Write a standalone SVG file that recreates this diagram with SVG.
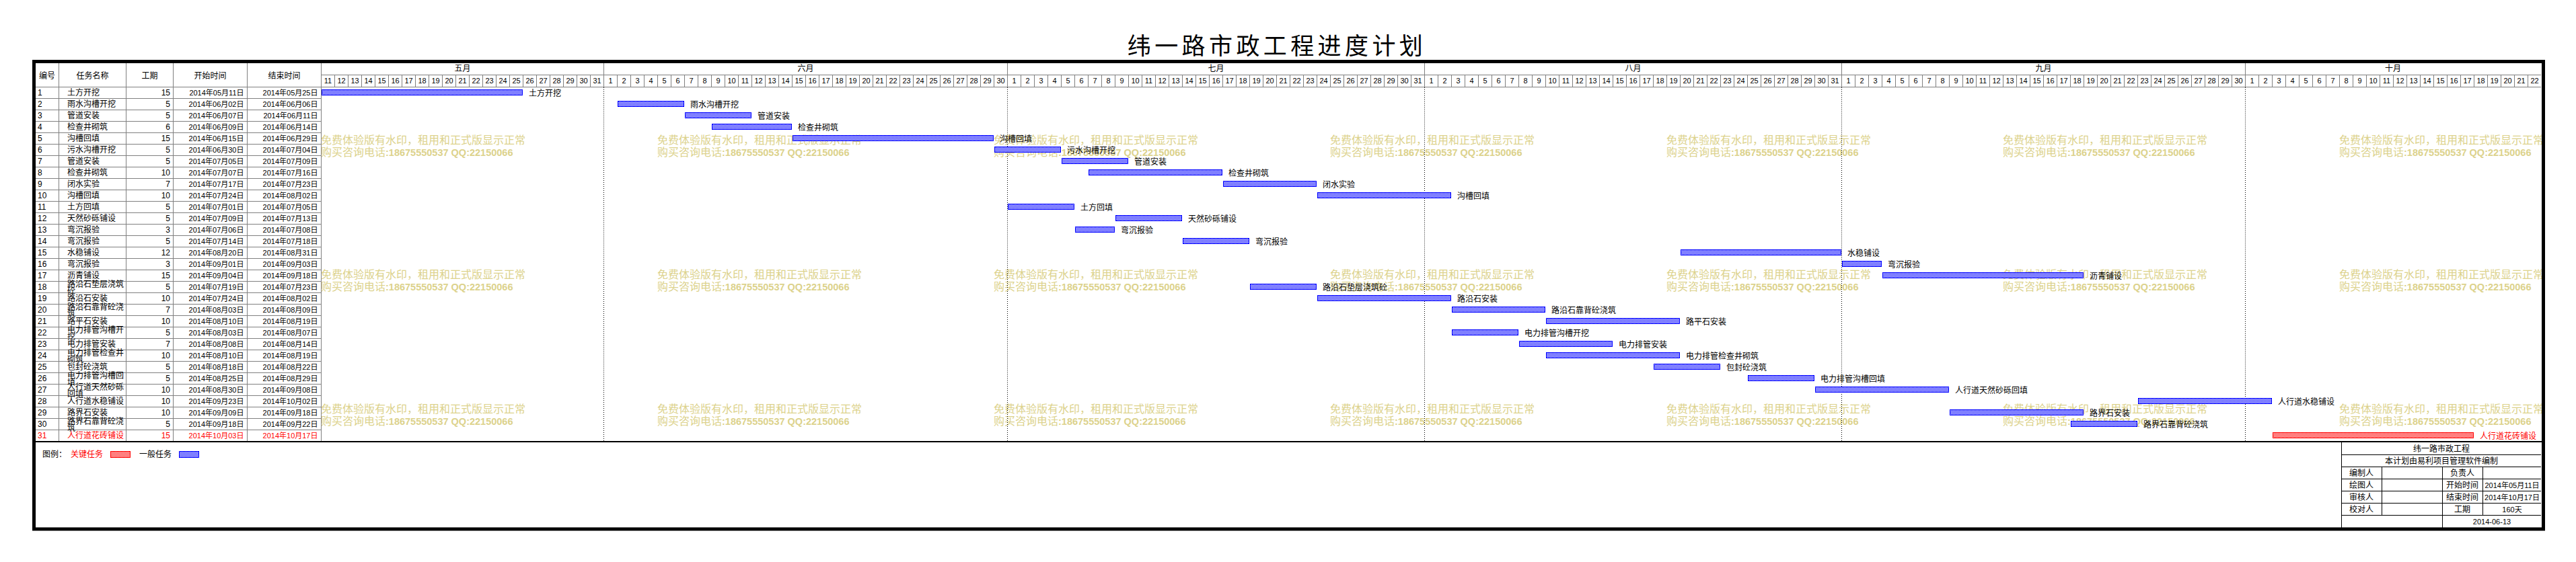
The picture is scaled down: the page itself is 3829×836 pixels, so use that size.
<svg xmlns="http://www.w3.org/2000/svg" width="3829" height="836" viewBox="0 0 3829 836">
<style>
text{font-family:"Noto Sans CJK SC",sans-serif;fill:#000}
.title{font-size:35px;letter-spacing:5.4px;text-anchor:middle}
.hd{font-size:12px;text-anchor:middle}
.mo{font-size:12px;text-anchor:middle}
.day{font-family:"Liberation Sans","Noto Sans CJK SC",sans-serif;font-size:11px;text-anchor:middle}
.no{font-family:"Liberation Sans","Noto Sans CJK SC",sans-serif;font-size:12px}
.nm{font-size:12px}
.du{font-family:"Liberation Sans","Noto Sans CJK SC",sans-serif;font-size:12px;text-anchor:end}
.dt{font-family:"Liberation Sans","Noto Sans CJK SC",sans-serif;font-size:11px;text-anchor:end}
.lb{font-size:12px}
.crit text,text.crit{fill:#ff0000}
.bar{fill:url(#chkB);stroke:#0000ff;stroke-width:1}
.rbar{fill:url(#chkR);stroke:#ff0000;stroke-width:1}
.grid{stroke:#808080;stroke-width:1;fill:none}
.blk{stroke:#000;stroke-width:1;fill:none}
.dot{stroke:#000;stroke-width:1;stroke-dasharray:1 2;fill:none}
.wm{font-size:16px;fill:#dcd28c}
.wmb{font-family:"Liberation Sans","Noto Sans CJK SC",sans-serif;font-weight:bold;font-size:14.5px}
.it{font-size:12px;text-anchor:middle}
.itd{font-family:"Liberation Sans","Noto Sans CJK SC",sans-serif;font-size:11px;text-anchor:middle}
</style>
<defs>
<pattern id="chkB" width="2" height="2" patternUnits="userSpaceOnUse"><rect width="2" height="2" fill="#ffffff"/><rect width="1" height="1" fill="#0000ff"/><rect x="1" y="1" width="1" height="1" fill="#0000ff"/></pattern>
<pattern id="chkR" width="2" height="2" patternUnits="userSpaceOnUse"><rect width="2" height="2" fill="#ffffff"/><rect width="1" height="1" fill="#ff0000"/><rect x="1" y="1" width="1" height="1" fill="#ff0000"/></pattern>
<pattern id="dayGrid" x="477" y="112" width="20" height="18" patternUnits="userSpaceOnUse"><rect width="1" height="18" fill="#808080"/></pattern>
</defs>
<rect width="3829" height="836" fill="#ffffff"/>

<text class="title" x="1898" y="81">纬一路市政工程进度计划</text>

<!-- watermarks -->
<g id="watermarks">
<text class="wm" x="477" y="214">免费体验版有水印，租用和正式版显示正常</text>
<text class="wm" x="477" y="232">购买咨询电话<tspan class="wmb">:18675550537 QQ:22150066</tspan></text>
<text class="wm" x="977" y="214">免费体验版有水印，租用和正式版显示正常</text>
<text class="wm" x="977" y="232">购买咨询电话<tspan class="wmb">:18675550537 QQ:22150066</tspan></text>
<text class="wm" x="1477" y="214">免费体验版有水印，租用和正式版显示正常</text>
<text class="wm" x="1477" y="232">购买咨询电话<tspan class="wmb">:18675550537 QQ:22150066</tspan></text>
<text class="wm" x="1977" y="214">免费体验版有水印，租用和正式版显示正常</text>
<text class="wm" x="1977" y="232">购买咨询电话<tspan class="wmb">:18675550537 QQ:22150066</tspan></text>
<text class="wm" x="2477" y="214">免费体验版有水印，租用和正式版显示正常</text>
<text class="wm" x="2477" y="232">购买咨询电话<tspan class="wmb">:18675550537 QQ:22150066</tspan></text>
<text class="wm" x="2977" y="214">免费体验版有水印，租用和正式版显示正常</text>
<text class="wm" x="2977" y="232">购买咨询电话<tspan class="wmb">:18675550537 QQ:22150066</tspan></text>
<text class="wm" x="3477" y="214">免费体验版有水印，租用和正式版显示正常</text>
<text class="wm" x="3477" y="232">购买咨询电话<tspan class="wmb">:18675550537 QQ:22150066</tspan></text>
<text class="wm" x="477" y="414">免费体验版有水印，租用和正式版显示正常</text>
<text class="wm" x="477" y="432">购买咨询电话<tspan class="wmb">:18675550537 QQ:22150066</tspan></text>
<text class="wm" x="977" y="414">免费体验版有水印，租用和正式版显示正常</text>
<text class="wm" x="977" y="432">购买咨询电话<tspan class="wmb">:18675550537 QQ:22150066</tspan></text>
<text class="wm" x="1477" y="414">免费体验版有水印，租用和正式版显示正常</text>
<text class="wm" x="1477" y="432">购买咨询电话<tspan class="wmb">:18675550537 QQ:22150066</tspan></text>
<text class="wm" x="1977" y="414">免费体验版有水印，租用和正式版显示正常</text>
<text class="wm" x="1977" y="432">购买咨询电话<tspan class="wmb">:18675550537 QQ:22150066</tspan></text>
<text class="wm" x="2477" y="414">免费体验版有水印，租用和正式版显示正常</text>
<text class="wm" x="2477" y="432">购买咨询电话<tspan class="wmb">:18675550537 QQ:22150066</tspan></text>
<text class="wm" x="2977" y="414">免费体验版有水印，租用和正式版显示正常</text>
<text class="wm" x="2977" y="432">购买咨询电话<tspan class="wmb">:18675550537 QQ:22150066</tspan></text>
<text class="wm" x="3477" y="414">免费体验版有水印，租用和正式版显示正常</text>
<text class="wm" x="3477" y="432">购买咨询电话<tspan class="wmb">:18675550537 QQ:22150066</tspan></text>
<text class="wm" x="477" y="614">免费体验版有水印，租用和正式版显示正常</text>
<text class="wm" x="477" y="632">购买咨询电话<tspan class="wmb">:18675550537 QQ:22150066</tspan></text>
<text class="wm" x="977" y="614">免费体验版有水印，租用和正式版显示正常</text>
<text class="wm" x="977" y="632">购买咨询电话<tspan class="wmb">:18675550537 QQ:22150066</tspan></text>
<text class="wm" x="1477" y="614">免费体验版有水印，租用和正式版显示正常</text>
<text class="wm" x="1477" y="632">购买咨询电话<tspan class="wmb">:18675550537 QQ:22150066</tspan></text>
<text class="wm" x="1977" y="614">免费体验版有水印，租用和正式版显示正常</text>
<text class="wm" x="1977" y="632">购买咨询电话<tspan class="wmb">:18675550537 QQ:22150066</tspan></text>
<text class="wm" x="2477" y="614">免费体验版有水印，租用和正式版显示正常</text>
<text class="wm" x="2477" y="632">购买咨询电话<tspan class="wmb">:18675550537 QQ:22150066</tspan></text>
<text class="wm" x="2977" y="614">免费体验版有水印，租用和正式版显示正常</text>
<text class="wm" x="2977" y="632">购买咨询电话<tspan class="wmb">:18675550537 QQ:22150066</tspan></text>
<text class="wm" x="3477" y="614">免费体验版有水印，租用和正式版显示正常</text>
<text class="wm" x="3477" y="632">购买咨询电话<tspan class="wmb">:18675550537 QQ:22150066</tspan></text>
</g>

<!-- grid -->
<g id="grid">
<rect x="478" y="112" width="3299" height="18" fill="url(#dayGrid)"/>
<path class="grid" d="M477.5 111.5H3777M53 129.5H3777"/>
<path class="grid" d="M87.5 94V656M187.5 94V656M257.5 94V656M367.5 94V656M477.5 94V656"/>
<path class="grid" d="M897.5 94V129.5M1497.5 94V129.5M2117.5 94V129.5M2737.5 94V129.5M3337.5 94V129.5"/>
<path class="grid" d="M53 146.5H477.5M53 163.5H477.5M53 180.5H477.5M53 197.5H477.5M53 214.5H477.5M53 231.5H477.5M53 248.5H477.5M53 265.5H477.5M53 282.5H477.5M53 299.5H477.5M53 316.5H477.5M53 333.5H477.5M53 350.5H477.5M53 367.5H477.5M53 384.5H477.5M53 401.5H477.5M53 418.5H477.5M53 435.5H477.5M53 452.5H477.5M53 469.5H477.5M53 486.5H477.5M53 503.5H477.5M53 520.5H477.5M53 537.5H477.5M53 554.5H477.5M53 571.5H477.5M53 588.5H477.5M53 605.5H477.5M53 622.5H477.5M53 639.5H477.5"/>
<path class="dot" d="M897.5 130V656M1497.5 130V656M2117.5 130V656M2737.5 130V656M3337.5 130V656"/>
<path d="M48 657H3783" stroke="#000" stroke-width="2"/>
</g>

<!-- header -->
<g id="header">
<text class="hd" x="70" y="117">编号</text>
<text class="hd" x="137.5" y="117">任务名称</text>
<text class="hd" x="222.5" y="117">工期</text>
<text class="hd" x="312.5" y="117">开始时间</text>
<text class="hd" x="422.5" y="117">结束时间</text>
<text class="mo" x="687.5" y="106">五月</text>
<text class="mo" x="1197.5" y="106">六月</text>
<text class="mo" x="1807.5" y="106">七月</text>
<text class="mo" x="2427.5" y="106">八月</text>
<text class="mo" x="3037.5" y="106">九月</text>
<text class="mo" x="3557" y="106">十月</text>
<text class="day" y="124"><tspan x="487.5">11</tspan><tspan x="507.5">12</tspan><tspan x="527.5">13</tspan><tspan x="547.5">14</tspan><tspan x="567.5">15</tspan><tspan x="587.5">16</tspan><tspan x="607.5">17</tspan><tspan x="627.5">18</tspan><tspan x="647.5">19</tspan><tspan x="667.5">20</tspan><tspan x="687.5">21</tspan><tspan x="707.5">22</tspan><tspan x="727.5">23</tspan><tspan x="747.5">24</tspan><tspan x="767.5">25</tspan><tspan x="787.5">26</tspan><tspan x="807.5">27</tspan><tspan x="827.5">28</tspan><tspan x="847.5">29</tspan><tspan x="867.5">30</tspan><tspan x="887.5">31</tspan></text>
<text class="day" y="124"><tspan x="907.5">1</tspan><tspan x="927.5">2</tspan><tspan x="947.5">3</tspan><tspan x="967.5">4</tspan><tspan x="987.5">5</tspan><tspan x="1007.5">6</tspan><tspan x="1027.5">7</tspan><tspan x="1047.5">8</tspan><tspan x="1067.5">9</tspan><tspan x="1087.5">10</tspan><tspan x="1107.5">11</tspan><tspan x="1127.5">12</tspan><tspan x="1147.5">13</tspan><tspan x="1167.5">14</tspan><tspan x="1187.5">15</tspan><tspan x="1207.5">16</tspan><tspan x="1227.5">17</tspan><tspan x="1247.5">18</tspan><tspan x="1267.5">19</tspan><tspan x="1287.5">20</tspan><tspan x="1307.5">21</tspan><tspan x="1327.5">22</tspan><tspan x="1347.5">23</tspan><tspan x="1367.5">24</tspan><tspan x="1387.5">25</tspan><tspan x="1407.5">26</tspan><tspan x="1427.5">27</tspan><tspan x="1447.5">28</tspan><tspan x="1467.5">29</tspan><tspan x="1487.5">30</tspan></text>
<text class="day" y="124"><tspan x="1507.5">1</tspan><tspan x="1527.5">2</tspan><tspan x="1547.5">3</tspan><tspan x="1567.5">4</tspan><tspan x="1587.5">5</tspan><tspan x="1607.5">6</tspan><tspan x="1627.5">7</tspan><tspan x="1647.5">8</tspan><tspan x="1667.5">9</tspan><tspan x="1687.5">10</tspan><tspan x="1707.5">11</tspan><tspan x="1727.5">12</tspan><tspan x="1747.5">13</tspan><tspan x="1767.5">14</tspan><tspan x="1787.5">15</tspan><tspan x="1807.5">16</tspan><tspan x="1827.5">17</tspan><tspan x="1847.5">18</tspan><tspan x="1867.5">19</tspan><tspan x="1887.5">20</tspan><tspan x="1907.5">21</tspan><tspan x="1927.5">22</tspan><tspan x="1947.5">23</tspan><tspan x="1967.5">24</tspan><tspan x="1987.5">25</tspan><tspan x="2007.5">26</tspan><tspan x="2027.5">27</tspan><tspan x="2047.5">28</tspan><tspan x="2067.5">29</tspan><tspan x="2087.5">30</tspan><tspan x="2107.5">31</tspan></text>
<text class="day" y="124"><tspan x="2127.5">1</tspan><tspan x="2147.5">2</tspan><tspan x="2167.5">3</tspan><tspan x="2187.5">4</tspan><tspan x="2207.5">5</tspan><tspan x="2227.5">6</tspan><tspan x="2247.5">7</tspan><tspan x="2267.5">8</tspan><tspan x="2287.5">9</tspan><tspan x="2307.5">10</tspan><tspan x="2327.5">11</tspan><tspan x="2347.5">12</tspan><tspan x="2367.5">13</tspan><tspan x="2387.5">14</tspan><tspan x="2407.5">15</tspan><tspan x="2427.5">16</tspan><tspan x="2447.5">17</tspan><tspan x="2467.5">18</tspan><tspan x="2487.5">19</tspan><tspan x="2507.5">20</tspan><tspan x="2527.5">21</tspan><tspan x="2547.5">22</tspan><tspan x="2567.5">23</tspan><tspan x="2587.5">24</tspan><tspan x="2607.5">25</tspan><tspan x="2627.5">26</tspan><tspan x="2647.5">27</tspan><tspan x="2667.5">28</tspan><tspan x="2687.5">29</tspan><tspan x="2707.5">30</tspan><tspan x="2727.5">31</tspan></text>
<text class="day" y="124"><tspan x="2747.5">1</tspan><tspan x="2767.5">2</tspan><tspan x="2787.5">3</tspan><tspan x="2807.5">4</tspan><tspan x="2827.5">5</tspan><tspan x="2847.5">6</tspan><tspan x="2867.5">7</tspan><tspan x="2887.5">8</tspan><tspan x="2907.5">9</tspan><tspan x="2927.5">10</tspan><tspan x="2947.5">11</tspan><tspan x="2967.5">12</tspan><tspan x="2987.5">13</tspan><tspan x="3007.5">14</tspan><tspan x="3027.5">15</tspan><tspan x="3047.5">16</tspan><tspan x="3067.5">17</tspan><tspan x="3087.5">18</tspan><tspan x="3107.5">19</tspan><tspan x="3127.5">20</tspan><tspan x="3147.5">21</tspan><tspan x="3167.5">22</tspan><tspan x="3187.5">23</tspan><tspan x="3207.5">24</tspan><tspan x="3227.5">25</tspan><tspan x="3247.5">26</tspan><tspan x="3267.5">27</tspan><tspan x="3287.5">28</tspan><tspan x="3307.5">29</tspan><tspan x="3327.5">30</tspan></text>
<text class="day" y="124"><tspan x="3347.5">1</tspan><tspan x="3367.5">2</tspan><tspan x="3387.5">3</tspan><tspan x="3407.5">4</tspan><tspan x="3427.5">5</tspan><tspan x="3447.5">6</tspan><tspan x="3467.5">7</tspan><tspan x="3487.5">8</tspan><tspan x="3507.5">9</tspan><tspan x="3527.5">10</tspan><tspan x="3547.5">11</tspan><tspan x="3567.5">12</tspan><tspan x="3587.5">13</tspan><tspan x="3607.5">14</tspan><tspan x="3627.5">15</tspan><tspan x="3647.5">16</tspan><tspan x="3667.5">17</tspan><tspan x="3687.5">18</tspan><tspan x="3707.5">19</tspan><tspan x="3727.5">20</tspan><tspan x="3747.5">21</tspan><tspan x="3767.5">22</tspan></text>
</g>

<!-- tasks -->
<g id="task-1"><text class="no" x="56" y="142">1</text><text class="nm" x="100" y="142">土方开挖</text><text class="du" x="253" y="142">15</text><text class="dt" x="362.5" y="142">2014年05月11日</text><text class="dt" x="472.5" y="142">2014年05月25日</text><rect class="bar" x="478.5" y="133.5" width="298" height="8"/><text class="lb" x="786" y="143">土方开挖</text></g>
<g id="task-2"><text class="no" x="56" y="159">2</text><text class="nm" x="100" y="159">雨水沟槽开挖</text><text class="du" x="253" y="159">5</text><text class="dt" x="362.5" y="159">2014年06月02日</text><text class="dt" x="472.5" y="159">2014年06月06日</text><rect class="bar" x="918.5" y="150.5" width="98" height="8"/><text class="lb" x="1026" y="160">雨水沟槽开挖</text></g>
<g id="task-3"><text class="no" x="56" y="176">3</text><text class="nm" x="100" y="176">管道安装</text><text class="du" x="253" y="176">5</text><text class="dt" x="362.5" y="176">2014年06月07日</text><text class="dt" x="472.5" y="176">2014年06月11日</text><rect class="bar" x="1018.5" y="167.5" width="98" height="8"/><text class="lb" x="1126" y="177">管道安装</text></g>
<g id="task-4"><text class="no" x="56" y="193">4</text><text class="nm" x="100" y="193">检查井砌筑</text><text class="du" x="253" y="193">6</text><text class="dt" x="362.5" y="193">2014年06月09日</text><text class="dt" x="472.5" y="193">2014年06月14日</text><rect class="bar" x="1058.5" y="184.5" width="118" height="8"/><text class="lb" x="1186" y="194">检查井砌筑</text></g>
<g id="task-5"><text class="no" x="56" y="210">5</text><text class="nm" x="100" y="210">沟槽回填</text><text class="du" x="253" y="210">15</text><text class="dt" x="362.5" y="210">2014年06月15日</text><text class="dt" x="472.5" y="210">2014年06月29日</text><rect class="bar" x="1178.5" y="201.5" width="298" height="8"/><text class="lb" x="1486" y="211">沟槽回填</text></g>
<g id="task-6"><text class="no" x="56" y="227">6</text><text class="nm" x="100" y="227">污水沟槽开挖</text><text class="du" x="253" y="227">5</text><text class="dt" x="362.5" y="227">2014年06月30日</text><text class="dt" x="472.5" y="227">2014年07月04日</text><rect class="bar" x="1478.5" y="218.5" width="98" height="8"/><text class="lb" x="1586" y="228">污水沟槽开挖</text></g>
<g id="task-7"><text class="no" x="56" y="244">7</text><text class="nm" x="100" y="244">管道安装</text><text class="du" x="253" y="244">5</text><text class="dt" x="362.5" y="244">2014年07月05日</text><text class="dt" x="472.5" y="244">2014年07月09日</text><rect class="bar" x="1578.5" y="235.5" width="98" height="8"/><text class="lb" x="1686" y="245">管道安装</text></g>
<g id="task-8"><text class="no" x="56" y="261">8</text><text class="nm" x="100" y="261">检查井砌筑</text><text class="du" x="253" y="261">10</text><text class="dt" x="362.5" y="261">2014年07月07日</text><text class="dt" x="472.5" y="261">2014年07月16日</text><rect class="bar" x="1618.5" y="252.5" width="198" height="8"/><text class="lb" x="1826" y="262">检查井砌筑</text></g>
<g id="task-9"><text class="no" x="56" y="278">9</text><text class="nm" x="100" y="278">闭水实验</text><text class="du" x="253" y="278">7</text><text class="dt" x="362.5" y="278">2014年07月17日</text><text class="dt" x="472.5" y="278">2014年07月23日</text><rect class="bar" x="1818.5" y="269.5" width="138" height="8"/><text class="lb" x="1966" y="279">闭水实验</text></g>
<g id="task-10"><text class="no" x="56" y="295">10</text><text class="nm" x="100" y="295">沟槽回填</text><text class="du" x="253" y="295">10</text><text class="dt" x="362.5" y="295">2014年07月24日</text><text class="dt" x="472.5" y="295">2014年08月02日</text><rect class="bar" x="1958.5" y="286.5" width="198" height="8"/><text class="lb" x="2166" y="296">沟槽回填</text></g>
<g id="task-11"><text class="no" x="56" y="312">11</text><text class="nm" x="100" y="312">土方回填</text><text class="du" x="253" y="312">5</text><text class="dt" x="362.5" y="312">2014年07月01日</text><text class="dt" x="472.5" y="312">2014年07月05日</text><rect class="bar" x="1498.5" y="303.5" width="98" height="8"/><text class="lb" x="1606" y="313">土方回填</text></g>
<g id="task-12"><text class="no" x="56" y="329">12</text><text class="nm" x="100" y="329">天然砂砾铺设</text><text class="du" x="253" y="329">5</text><text class="dt" x="362.5" y="329">2014年07月09日</text><text class="dt" x="472.5" y="329">2014年07月13日</text><rect class="bar" x="1658.5" y="320.5" width="98" height="8"/><text class="lb" x="1766" y="330">天然砂砾铺设</text></g>
<g id="task-13"><text class="no" x="56" y="346">13</text><text class="nm" x="100" y="346">弯沉报验</text><text class="du" x="253" y="346">3</text><text class="dt" x="362.5" y="346">2014年07月06日</text><text class="dt" x="472.5" y="346">2014年07月08日</text><rect class="bar" x="1598.5" y="337.5" width="58" height="8"/><text class="lb" x="1666" y="347">弯沉报验</text></g>
<g id="task-14"><text class="no" x="56" y="363">14</text><text class="nm" x="100" y="363">弯沉报验</text><text class="du" x="253" y="363">5</text><text class="dt" x="362.5" y="363">2014年07月14日</text><text class="dt" x="472.5" y="363">2014年07月18日</text><rect class="bar" x="1758.5" y="354.5" width="98" height="8"/><text class="lb" x="1866" y="364">弯沉报验</text></g>
<g id="task-15"><text class="no" x="56" y="380">15</text><text class="nm" x="100" y="380">水稳铺设</text><text class="du" x="253" y="380">12</text><text class="dt" x="362.5" y="380">2014年08月20日</text><text class="dt" x="472.5" y="380">2014年08月31日</text><rect class="bar" x="2498.5" y="371.5" width="238" height="8"/><text class="lb" x="2746" y="381">水稳铺设</text></g>
<g id="task-16"><text class="no" x="56" y="397">16</text><text class="nm" x="100" y="397">弯沉报验</text><text class="du" x="253" y="397">3</text><text class="dt" x="362.5" y="397">2014年09月01日</text><text class="dt" x="472.5" y="397">2014年09月03日</text><rect class="bar" x="2738.5" y="388.5" width="58" height="8"/><text class="lb" x="2806" y="398">弯沉报验</text></g>
<g id="task-17"><text class="no" x="56" y="414">17</text><text class="nm" x="100" y="414">沥青铺设</text><text class="du" x="253" y="414">15</text><text class="dt" x="362.5" y="414">2014年09月04日</text><text class="dt" x="472.5" y="414">2014年09月18日</text><rect class="bar" x="2798.5" y="405.5" width="298" height="8"/><text class="lb" x="3106" y="415">沥青铺设</text></g>
<g id="task-18"><text class="no" x="56" y="431">18</text><text class="nm" x="100" y="426.5">路沿石垫层浇筑</text><text class="nm" x="100" y="436.5">砼</text><text class="du" x="253" y="431">5</text><text class="dt" x="362.5" y="431">2014年07月19日</text><text class="dt" x="472.5" y="431">2014年07月23日</text><rect class="bar" x="1858.5" y="422.5" width="98" height="8"/><text class="lb" x="1966" y="432">路沿石垫层浇筑砼</text></g>
<g id="task-19"><text class="no" x="56" y="448">19</text><text class="nm" x="100" y="448">路沿石安装</text><text class="du" x="253" y="448">10</text><text class="dt" x="362.5" y="448">2014年07月24日</text><text class="dt" x="472.5" y="448">2014年08月02日</text><rect class="bar" x="1958.5" y="439.5" width="198" height="8"/><text class="lb" x="2166" y="449">路沿石安装</text></g>
<g id="task-20"><text class="no" x="56" y="465">20</text><text class="nm" x="100" y="460.5">路沿石靠背砼浇</text><text class="nm" x="100" y="470.5">筑</text><text class="du" x="253" y="465">7</text><text class="dt" x="362.5" y="465">2014年08月03日</text><text class="dt" x="472.5" y="465">2014年08月09日</text><rect class="bar" x="2158.5" y="456.5" width="138" height="8"/><text class="lb" x="2306" y="466">路沿石靠背砼浇筑</text></g>
<g id="task-21"><text class="no" x="56" y="482">21</text><text class="nm" x="100" y="482">路平石安装</text><text class="du" x="253" y="482">10</text><text class="dt" x="362.5" y="482">2014年08月10日</text><text class="dt" x="472.5" y="482">2014年08月19日</text><rect class="bar" x="2298.5" y="473.5" width="198" height="8"/><text class="lb" x="2506" y="483">路平石安装</text></g>
<g id="task-22"><text class="no" x="56" y="499">22</text><text class="nm" x="100" y="494.5">电力排管沟槽开</text><text class="nm" x="100" y="504.5">挖</text><text class="du" x="253" y="499">5</text><text class="dt" x="362.5" y="499">2014年08月03日</text><text class="dt" x="472.5" y="499">2014年08月07日</text><rect class="bar" x="2158.5" y="490.5" width="98" height="8"/><text class="lb" x="2266" y="500">电力排管沟槽开挖</text></g>
<g id="task-23"><text class="no" x="56" y="516">23</text><text class="nm" x="100" y="516">电力排管安装</text><text class="du" x="253" y="516">7</text><text class="dt" x="362.5" y="516">2014年08月08日</text><text class="dt" x="472.5" y="516">2014年08月14日</text><rect class="bar" x="2258.5" y="507.5" width="138" height="8"/><text class="lb" x="2406" y="517">电力排管安装</text></g>
<g id="task-24"><text class="no" x="56" y="533">24</text><text class="nm" x="100" y="528.5">电力排管检查井</text><text class="nm" x="100" y="538.5">砌筑</text><text class="du" x="253" y="533">10</text><text class="dt" x="362.5" y="533">2014年08月10日</text><text class="dt" x="472.5" y="533">2014年08月19日</text><rect class="bar" x="2298.5" y="524.5" width="198" height="8"/><text class="lb" x="2506" y="534">电力排管检查井砌筑</text></g>
<g id="task-25"><text class="no" x="56" y="550">25</text><text class="nm" x="100" y="550">包封砼浇筑</text><text class="du" x="253" y="550">5</text><text class="dt" x="362.5" y="550">2014年08月18日</text><text class="dt" x="472.5" y="550">2014年08月22日</text><rect class="bar" x="2458.5" y="541.5" width="98" height="8"/><text class="lb" x="2566" y="551">包封砼浇筑</text></g>
<g id="task-26"><text class="no" x="56" y="567">26</text><text class="nm" x="100" y="562.5">电力排管沟槽回</text><text class="nm" x="100" y="572.5">填</text><text class="du" x="253" y="567">5</text><text class="dt" x="362.5" y="567">2014年08月25日</text><text class="dt" x="472.5" y="567">2014年08月29日</text><rect class="bar" x="2598.5" y="558.5" width="98" height="8"/><text class="lb" x="2706" y="568">电力排管沟槽回填</text></g>
<g id="task-27"><text class="no" x="56" y="584">27</text><text class="nm" x="100" y="579.5">人行道天然砂砾</text><text class="nm" x="100" y="589.5">回填</text><text class="du" x="253" y="584">10</text><text class="dt" x="362.5" y="584">2014年08月30日</text><text class="dt" x="472.5" y="584">2014年09月08日</text><rect class="bar" x="2698.5" y="575.5" width="198" height="8"/><text class="lb" x="2906" y="585">人行道天然砂砾回填</text></g>
<g id="task-28"><text class="no" x="56" y="601">28</text><text class="nm" x="100" y="601">人行道水稳铺设</text><text class="du" x="253" y="601">10</text><text class="dt" x="362.5" y="601">2014年09月23日</text><text class="dt" x="472.5" y="601">2014年10月02日</text><rect class="bar" x="3178.5" y="592.5" width="198" height="8"/><text class="lb" x="3386" y="602">人行道水稳铺设</text></g>
<g id="task-29"><text class="no" x="56" y="618">29</text><text class="nm" x="100" y="618">路界石安装</text><text class="du" x="253" y="618">10</text><text class="dt" x="362.5" y="618">2014年09月09日</text><text class="dt" x="472.5" y="618">2014年09月18日</text><rect class="bar" x="2898.5" y="609.5" width="198" height="8"/><text class="lb" x="3106" y="619">路界石安装</text></g>
<g id="task-30"><text class="no" x="56" y="635">30</text><text class="nm" x="100" y="630.5">路界石靠背砼浇</text><text class="nm" x="100" y="640.5">筑</text><text class="du" x="253" y="635">5</text><text class="dt" x="362.5" y="635">2014年09月18日</text><text class="dt" x="472.5" y="635">2014年09月22日</text><rect class="bar" x="3078.5" y="626.5" width="98" height="8"/><text class="lb" x="3186" y="636">路界石靠背砼浇筑</text></g>
<g id="task-31" class="crit"><text class="no" x="56" y="652">31</text><text class="nm" x="100" y="652">人行道花砖铺设</text><text class="du" x="253" y="652">15</text><text class="dt" x="362.5" y="652">2014年10月03日</text><text class="dt" x="472.5" y="652">2014年10月17日</text><rect class="rbar" x="3378.5" y="643.5" width="298" height="8"/><text class="lb" x="3686" y="653">人行道花砖铺设</text></g>

<!-- legend -->
<g id="legend">
<text class="lb" x="63" y="680">图例：</text>
<text class="lb crit" x="105" y="680">关键任务</text>
<rect class="rbar" x="164.5" y="671.5" width="29" height="9"/>
<text class="lb" x="207" y="680">一般任务</text>
<rect class="bar" x="266.5" y="671.5" width="29" height="9"/>
</g>

<!-- info table -->
<g id="info-table">
<path class="blk" d="M3480.5 657V785M3480 676.5H3777M3480 694.5H3777M3480 712.5H3777M3480 730.5H3777M3480 748.5H3777M3480 766.5H3777M3540.5 694V766M3630.5 694V785M3690.5 694V766"/>
<text class="it" x="3629" y="672">纬一路市政工程</text>
<text class="it" x="3629" y="690">本计划由易利项目管理软件编制</text>
<text class="it" x="3510" y="708">编制人</text>
<text class="it" x="3660" y="708">负责人</text>
<text class="it" x="3510" y="726">绘图人</text>
<text class="it" x="3660" y="726">开始时间</text>
<text class="itd" x="3734" y="726">2014年05月11日</text>
<text class="it" x="3510" y="744">审核人</text>
<text class="it" x="3660" y="744">结束时间</text>
<text class="itd" x="3734" y="744">2014年10月17日</text>
<text class="it" x="3510" y="762">校对人</text>
<text class="it" x="3660" y="762">工期</text>
<text class="itd" x="3734" y="762">160天</text>
<text class="itd" x="3704" y="780">2014-06-13</text>
</g>

<!-- frame -->
<rect id="frame" x="50.5" y="91.5" width="3730" height="695.5" fill="none" stroke="#000" stroke-width="5"/>
</svg>
